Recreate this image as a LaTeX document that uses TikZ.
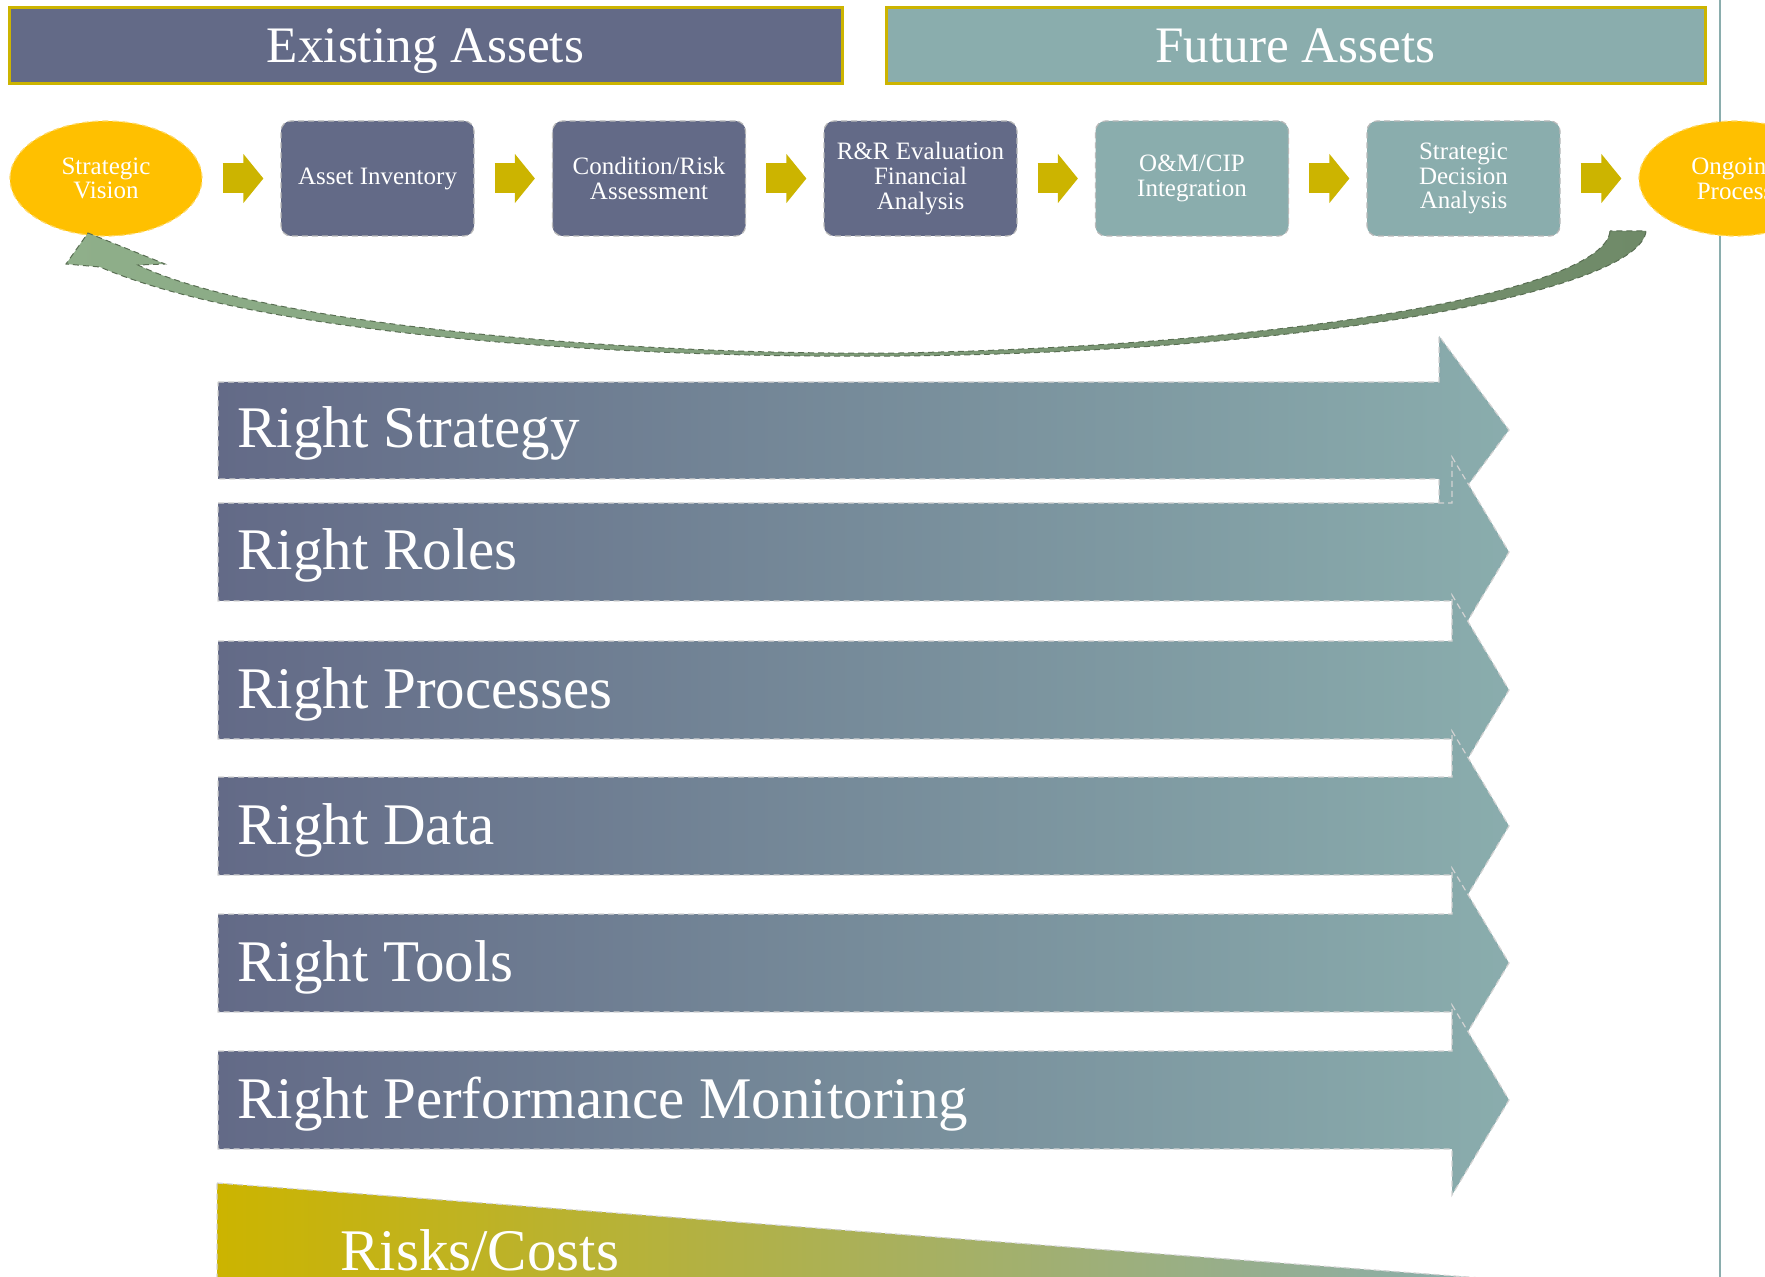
\documentclass[tikz,border=0pt]{standalone}
\usepackage{fontspec}
\setmainfont{Liberation Serif}
\usetikzlibrary{arrows.meta,shapes.geometric}

\definecolor{exblue}{HTML}{636A87}
\definecolor{futteal}{HTML}{8AADAD}
\definecolor{visgold}{HTML}{FFC000}
\definecolor{flowgold}{HTML}{CCB400}
\definecolor{loopdark}{HTML}{6F8A68}
\definecolor{looplight}{HTML}{8FAF8A}

\begin{document}
\begin{tikzpicture}[
    x=0.5pt,
    y=-0.5pt,
    banner/.style={draw=flowgold, line width=1.5pt, text=white, font=\fontsize{25.6}{30}\selectfont, minimum height=38pt, text height=17pt, text depth=0pt, inner sep=0pt},
    stage/.style={rectangle, rounded corners=5pt, draw=gray!55, densely dashed, line width=0.6pt, text=white, align=center, font=\fontsize{12.5}{12.4}\selectfont, minimum width=96.5pt, minimum height=57.5pt, inner sep=0pt},
    goal/.style={ellipse, fill=visgold, draw=visgold!60!white, densely dashed, line width=0.6pt, text=white, align=center, font=\fontsize{12.5}{12.4}\selectfont, minimum width=96pt, minimum height=57.5pt, inner sep=0pt},
    flow/.style={draw=flowgold, line width=15pt, -{Triangle[length=10pt,width=24pt]}, shorten <=10pt, shorten >=8.5pt},
    band/.style={left color=exblue, right color=futteal, draw=gray!35, densely dashed, line width=0.6pt},
    bandtxt/.style={anchor=base west, text=white, font=\fontsize{29.5}{32}\selectfont, inner sep=0pt}
]
\useasboundingbox (0,0) rectangle (1765,1277);

\draw[futteal, line width=1pt] (1720,0) -- (1720,1277);

\node[banner, fill=exblue, minimum width=416.5pt] (existing) at (425.5,46) {Existing Assets};
\node[banner, fill=futteal, minimum width=409.5pt] (future) at (1295.5,46) {Future Assets};

\node[goal] (vision) at (106,178.5) {Strategic\\Vision};
\node[stage, fill=exblue] (inventory) at (377.5,178.5) {Asset Inventory};
\node[stage, fill=exblue] (condition) at (649,178.5) {Condition/Risk\\Assessment};
\node[stage, fill=exblue] (evaluation) at (920.5,178.5) {R\&R Evaluation\\Financial\\Analysis};
\node[stage, fill=futteal] (integration) at (1192,178.5) {O\&M/CIP\\Integration};
\node[stage, fill=futteal] (decision) at (1463.5,178.5) {Strategic\\Decision\\Analysis};
\node[goal] (ongoing) at (1735,178.5) {Ongoing\\Process};

\draw[flow] (vision) -- (inventory);
\draw[flow] (inventory) -- (condition);
\draw[flow] (condition) -- (evaluation);
\draw[flow] (evaluation) -- (integration);
\draw[flow] (integration) -- (decision);
\draw[flow] (decision) -- (ongoing);

% the six "right" bands
\draw[band] (218,382) -- (1439,382) -- (1439,336) -- (1509,430) -- (1439,524) -- (1439,479) -- (218,479) -- cycle;
\node[bandtxt] (strategy) at (237,448) {Right Strategy};
\draw[band] (218,503) -- (1452,503) -- (1452,457) -- (1509,552) -- (1452,647) -- (1452,601) -- (218,601) -- cycle;
\node[bandtxt] (roles) at (237,570) {Right Roles};
\draw[band] (218,641) -- (1452,641) -- (1452,595) -- (1509,690) -- (1452,785) -- (1452,739) -- (218,739) -- cycle;
\node[bandtxt] (processes) at (237,708) {Right Processes};
\draw[band] (218,777) -- (1452,777) -- (1452,731) -- (1509,826) -- (1452,921) -- (1452,875) -- (218,875) -- cycle;
\node[bandtxt] (data) at (237,844) {Right Data};
\draw[band] (218,914) -- (1452,914) -- (1452,868) -- (1509,963) -- (1452,1058) -- (1452,1012) -- (218,1012) -- cycle;
\node[bandtxt] (tools) at (237,981) {Right Tools};
\draw[band] (218,1051) -- (1452,1051) -- (1452,1005) -- (1509,1100) -- (1452,1195) -- (1452,1149) -- (218,1149) -- cycle;
\node[bandtxt] (monitoring) at (237,1118) {Right Performance Monitoring};

% risks wedge
\draw[left color=flowgold, right color=futteal, draw=gray!35, densely dashed, line width=0.6pt] (217,1183) -- (1481,1278) -- (217,1278) -- cycle;
\node[bandtxt] (risks) at (340,1270) {Risks/Costs};

% return loop
\draw[left color=looplight, right color=loopdark, draw=loopdark!80!black, densely dashed, line width=0.5pt]
  (1610,231) .. controls (1605,290) and (1300,345) .. (900,353)
  .. controls (600,356) and (250,320) .. (138,265)
  -- (165,264) -- (88,233) -- (66,264) -- (100,267)
  .. controls (250,332) and (600,359) .. (900,356)
  .. controls (1320,352) and (1640,290) .. (1646,231) -- cycle;
\end{tikzpicture}
\end{document}
